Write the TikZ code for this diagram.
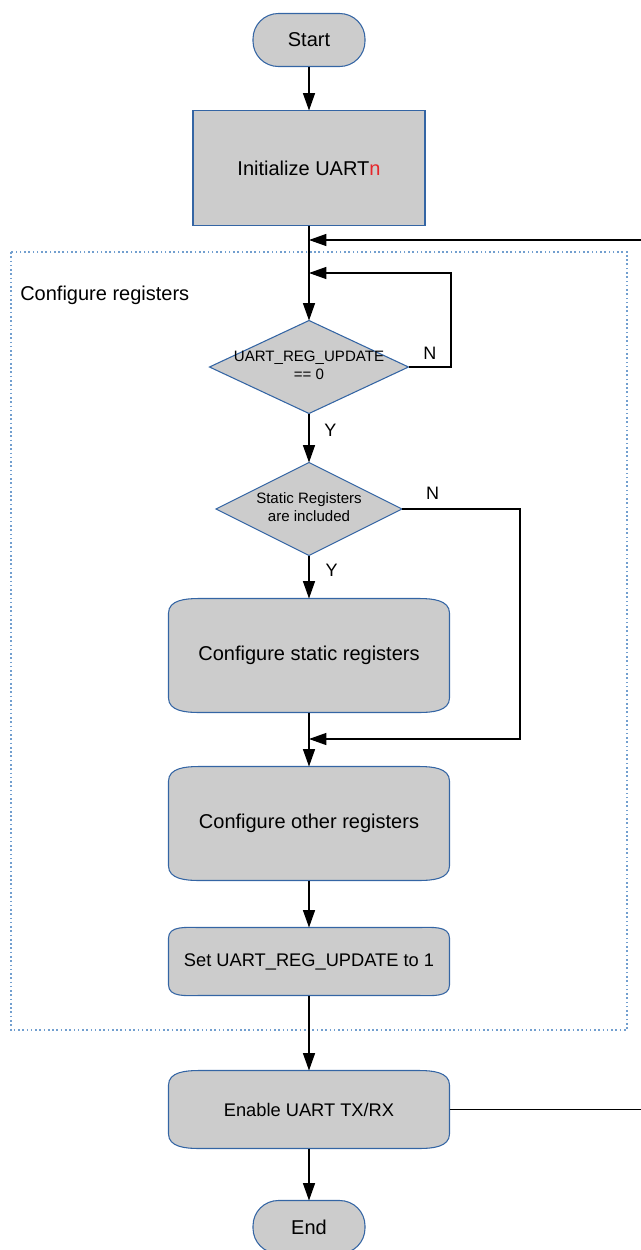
\documentclass[tikz,border=0pt]{standalone}
\usepackage{fontspec}
\setmainfont{Liberation Sans}
\usetikzlibrary{positioning,shapes.geometric,arrows.meta,backgrounds}

\definecolor{boxblue}{HTML}{3465A4}
\definecolor{boxgray}{HTML}{CCCCCC}
\definecolor{frameblue}{HTML}{729FCF}
\definecolor{uartred}{HTML}{E6262B}

\tikzset{
  flow/.style={draw=black, line width=0.9pt, -{Triangle[length=13pt,width=9pt]}},
  terminal/.style={rectangle, draw=boxblue, fill=boxgray, line width=0.8pt, rounded corners=19pt,
    minimum width=84pt, minimum height=39.75pt, outer sep=0pt, font=\fontsize{15}{18}\selectfont},
  initbox/.style={rectangle, draw=boxblue, fill=boxgray, line width=0.8pt,
    minimum width=174pt, minimum height=86.25pt, outer sep=0pt, font=\fontsize{15}{18}\selectfont},
  decision/.style={diamond, draw=boxblue, fill=boxgray, line width=0.8pt, inner sep=0pt, outer sep=0pt,
    minimum height=69.75pt, font=\fontsize{11.3}{13.5}\selectfont},
  procbox/.style={rectangle, minimum width=210.75pt, inner sep=0pt, outer sep=0pt},
  yn/.style={inner sep=0pt, font=\fontsize{13.5}{16}\selectfont},
}

% curved top and bottom of the process boxes
\newcommand{\drawproc}[2]{%
  \draw[boxblue, fill=boxgray, line width=0.8pt]
    ([yshift=-#2]#1.north west) -- ([yshift=#2]#1.south west)
    to[out=-90,in=180] ([xshift=23pt]#1.south west) -- ([xshift=-23pt]#1.south east)
    to[out=0,in=-90] ([yshift=#2]#1.south east) -- ([yshift=-#2]#1.north east)
    to[out=90,in=0] ([xshift=-23pt]#1.north east) -- ([xshift=23pt]#1.north west)
    to[out=180,in=90] ([yshift=-#2]#1.north west) -- cycle;}

\begin{document}
\begin{tikzpicture}[x=0.75pt, y=-0.75pt]
    \useasboundingbox (0,0) rectangle (641,1250);

    \node[terminal] (start) at (309,40) {Start};
    \node[initbox, below=33pt of start] (init) {Initialize UART\textcolor{uartred}{n}};

    % configure registers
    \draw[frameblue, line width=1pt, dash pattern=on 1.2pt off 2pt] (11,252) rectangle (627,1030);
    \node[anchor=west, inner sep=0pt, font=\fontsize{15}{18}\selectfont] (cfgtitle) at (20,295) {Configure registers};

    \node[decision, minimum width=149.25pt, below=71.25pt of init] (regupd)
        {\makebox[0pt]{\begin{tabular}{@{}c@{}}UART\_REG\_UPDATE\\== 0\end{tabular}}};
    \node[decision, minimum width=139.5pt, below=36.75pt of regupd] (statinc)
        {\makebox[0pt]{\begin{tabular}{@{}c@{}}Static Registers\\are included\end{tabular}}};

    \node[procbox, minimum height=85.5pt, below=32.25pt of statinc, font=\fontsize{15}{18}\selectfont] (cfgstat) {Configure static registers};
    \node[procbox, minimum height=85.5pt, below=40.5pt of cfgstat, font=\fontsize{15}{18}\selectfont] (cfgother) {Configure other registers};
    \node[procbox, minimum height=51pt, below=35.25pt of cfgother, font=\fontsize{13.7}{16}\selectfont] (setupd) {Set UART\_REG\_UPDATE to 1};

    % enable and end
    \node[procbox, minimum height=58.5pt, below=56.25pt of setupd, font=\fontsize{13.7}{16}\selectfont] (enable) {Enable UART TX/RX};
    \node[terminal, below=39pt of enable] (end) {End};

    \begin{scope}[on background layer]
        \drawproc{cfgstat}{11pt}
        \drawproc{cfgother}{11pt}
        \drawproc{setupd}{8pt}
        \drawproc{enable}{11pt}
    \end{scope}

    \coordinate (nloop) at (451,273);
    \coordinate (skipstat) at (520,739);
    \coordinate (backloop) at (646,240);

    \draw[flow] (start) -- (init);
    \draw[flow] (init) -- (regupd);
    \draw[flow] (regupd.east) -| node[yn, pos=0.25, above=5pt] (nupd) {N} (nloop) -- (nloop -| regupd.north);
    \draw[flow] (regupd) -- node[yn, pos=0.35, right=11pt] (yupd) {Y} (statinc);
    \draw[flow] (statinc.east) -| node[yn, pos=0.13, above=7pt] (nstat) {N} (skipstat) -- (skipstat -| cfgother.north);
    \draw[flow] (statinc) -- node[yn, pos=0.35, right=12pt] (ystat) {Y} (cfgstat);
    \draw[flow] (cfgstat) -- (cfgother);
    \draw[flow] (cfgother) -- (setupd);
    \draw[flow] (setupd) -- (enable);
    \draw[flow] (enable.east) -| (backloop) -- (backloop -| init.south);
    \draw[flow] (enable) -- (end);
\end{tikzpicture}
\end{document}
